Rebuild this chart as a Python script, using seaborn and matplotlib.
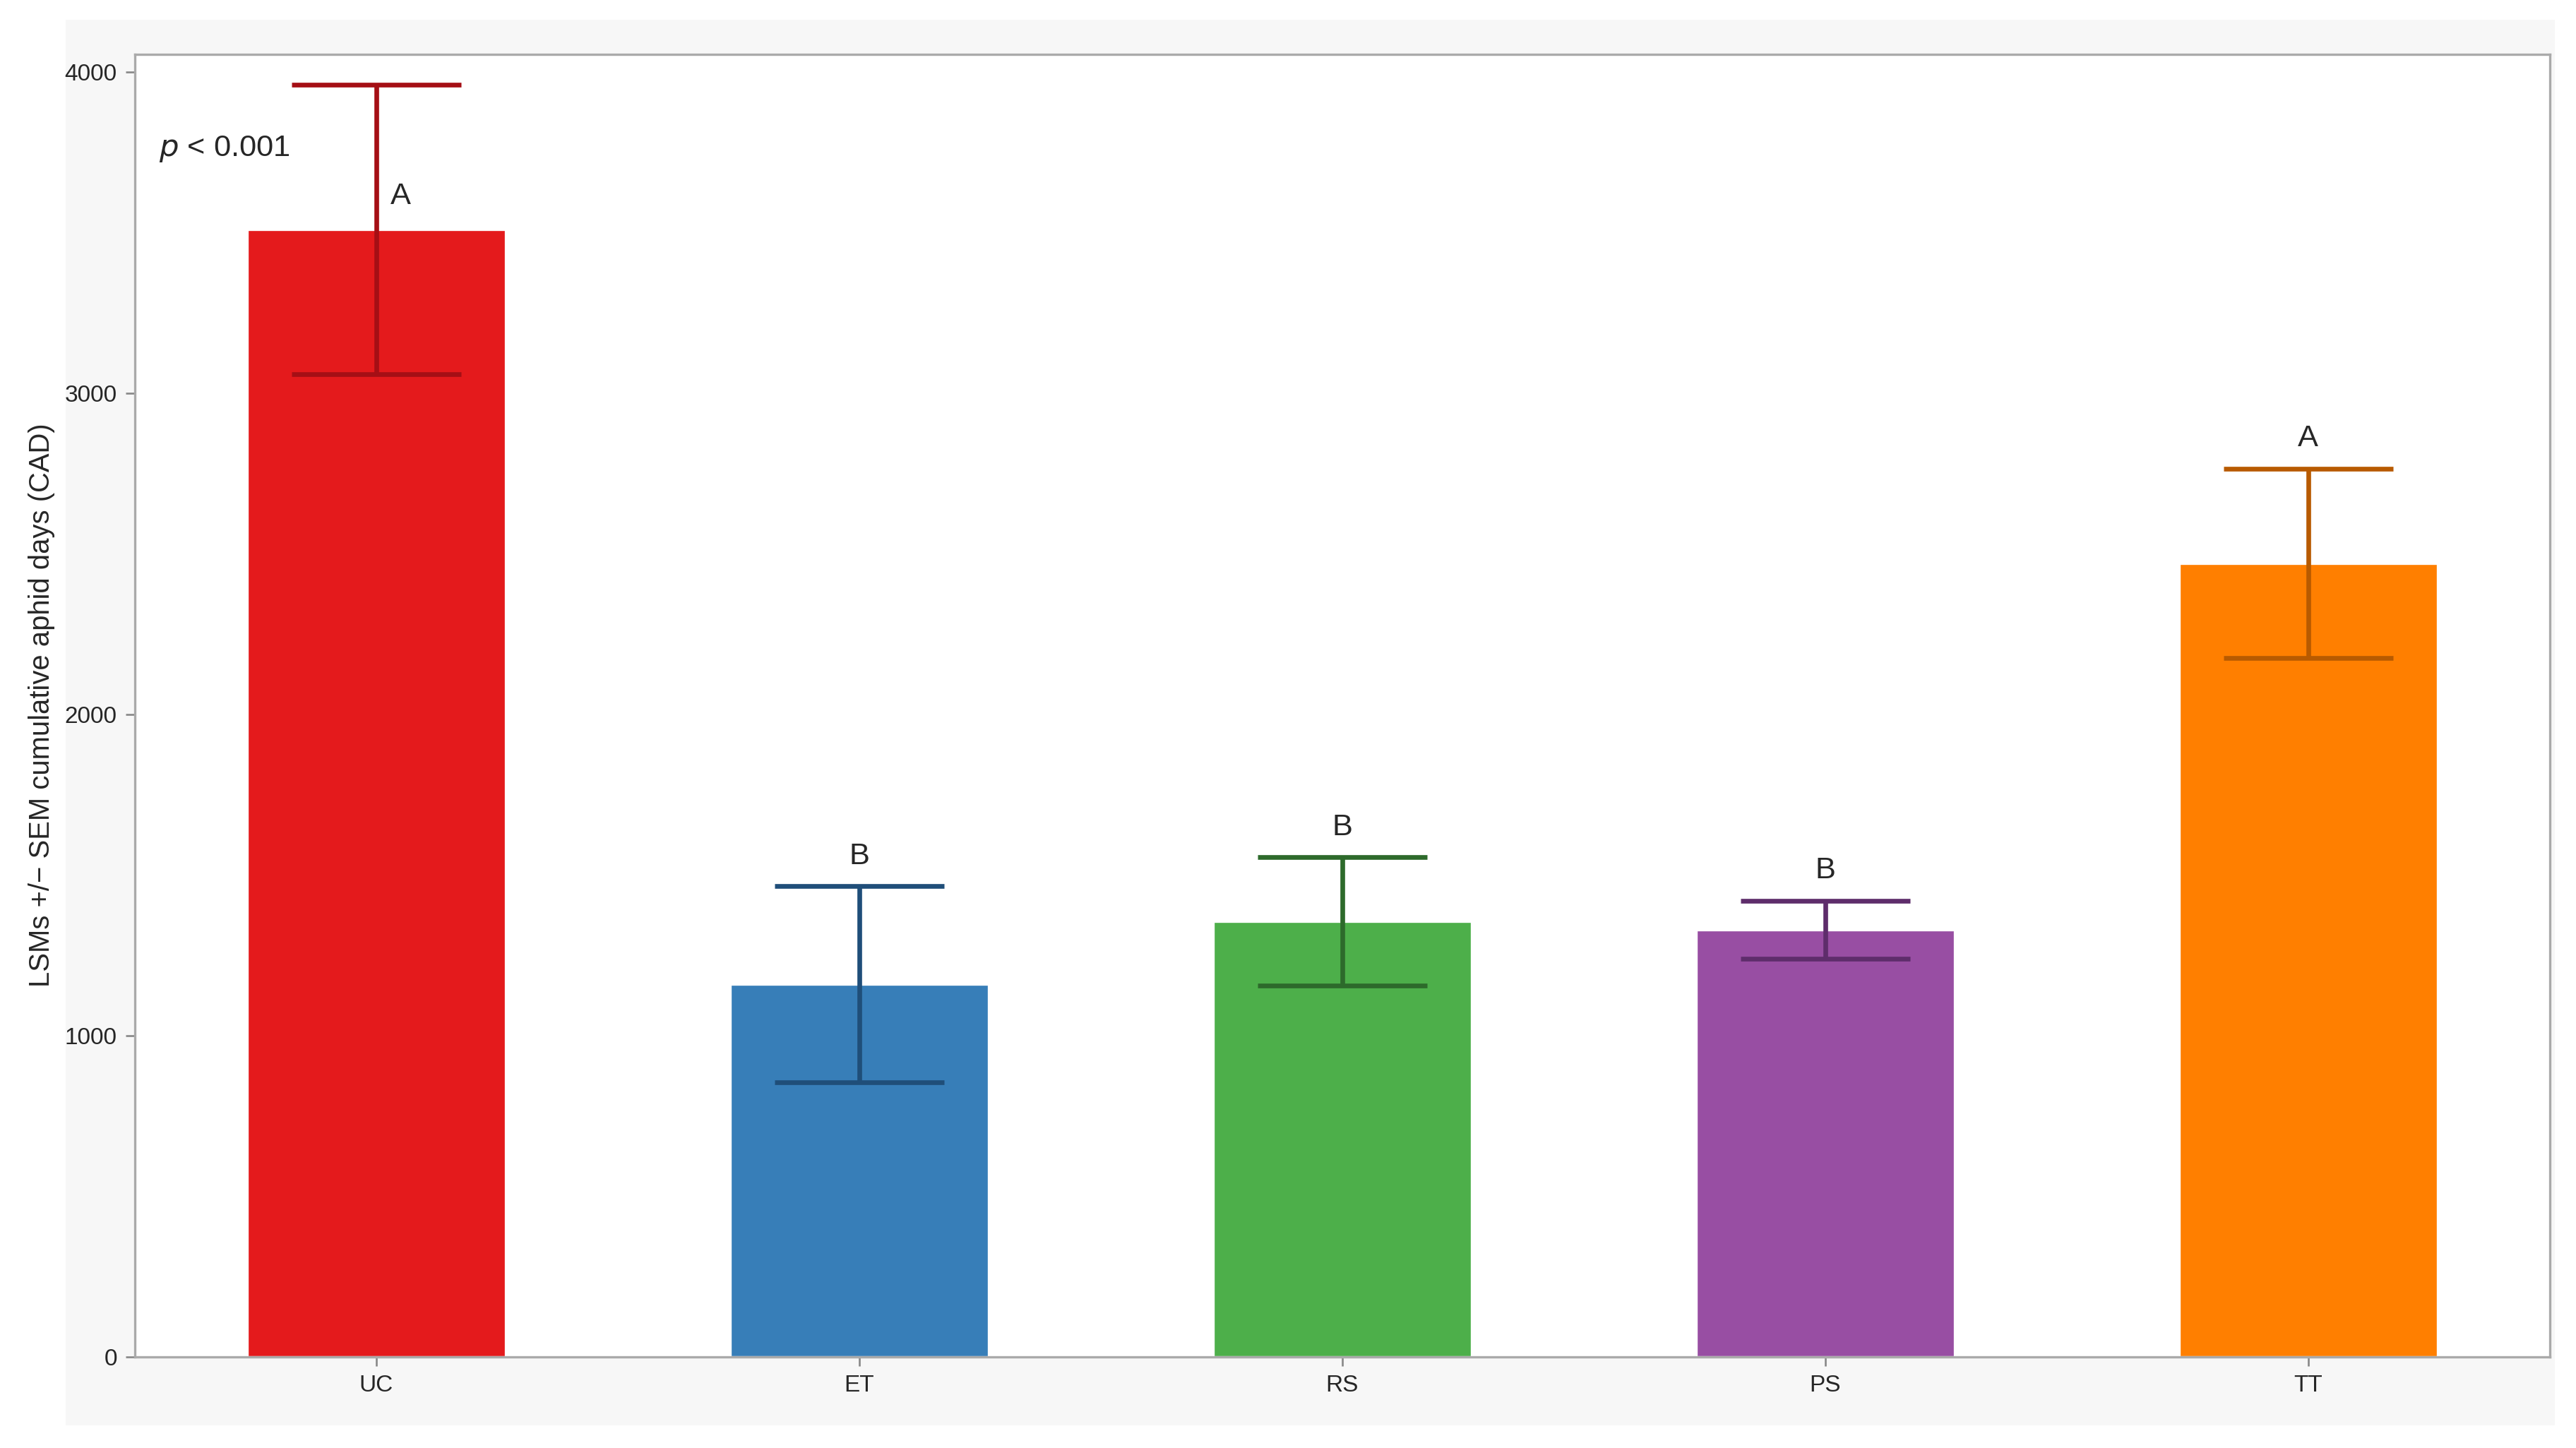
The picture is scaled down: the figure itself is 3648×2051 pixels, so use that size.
import matplotlib
matplotlib.use("Agg")
import matplotlib.pyplot as plt
import seaborn as sns
import pandas as pd
from matplotlib.patches import Rectangle

cats = ["UC", "ET", "RS", "PS", "TT"]
means = [3510, 1160, 1355, 1330, 2470]
sems = [450, 305, 200, 90, 295]
letters = ["A", "B", "B", "B", "A"]
bar_colors = ["#e41a1c", "#377eb8", "#4daf4a", "#984ea3", "#ff7f00"]
err_colors = ["#a50f15", "#1f4e79", "#2d6a2b", "#5e2d6b", "#b85a00"]

sns.set_style("white")
plt.rcParams['font.family'] = ['Liberation Sans', 'DejaVu Sans']

fig = plt.figure(figsize=(15.2, 8.546), dpi=240)
fig.patch.set_facecolor("white")
fig.patches.append(Rectangle((0.0255, 0.0154), 0.9662, 0.971, transform=fig.transFigure,
                             facecolor="#f7f7f7", edgecolor="none", zorder=-10))
ax = fig.add_axes([0.0523, 0.0631, 0.9375, 0.8995])
ax.set_facecolor("white")

df = pd.DataFrame({"cat": cats, "mean": means})
sns.barplot(data=df, x="cat", y="mean", hue="cat", palette=bar_colors, width=0.535,
            legend=False, ax=ax, saturation=1)
for i, (m, s, c) in enumerate(zip(means, sems, err_colors)):
    ax.errorbar(i, m, yerr=s, color=c, capsize=36, capthick=2, elinewidth=2, zorder=5)
for i, (m, s, l) in enumerate(zip(means, sems, letters)):
    if i == 0:
        ax.text(i + 0.05, m + 60, l, ha="center", va="bottom", fontsize=13)
    else:
        ax.text(i, m + s + 50, l, ha="center", va="bottom", fontsize=13)
ax.text(-0.45, 3760, "$p$ < 0.001", fontsize=13, va="center")

ax.set_xlim(-0.5, 4.5)
ax.set_ylim(0, 4056)
ax.set_yticks([0, 1000, 2000, 3000, 4000])
ax.tick_params(axis="both", labelsize=10, length=4, color="#888888", left=True, bottom=True)
ax.set_xlabel("")
ax.set_ylabel("LSMs +/\u2212 SEM cumulative aphid days (CAD)", fontsize=12)
for sp in ax.spines.values():
    sp.set_color("#aaaaaa")
    sp.set_linewidth(1)

fig.savefig("out.png", dpi=240)
